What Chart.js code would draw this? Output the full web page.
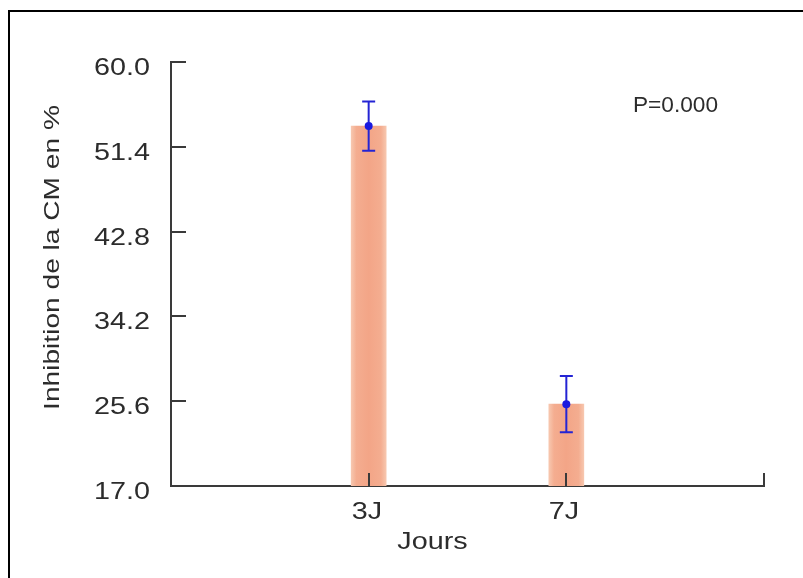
<!DOCTYPE html>
<html>
<head>
<meta charset="utf-8">
<script src="https://cdn.jsdelivr.net/npm/chart.js@4"></script>
<style>
  html, body { margin:0; padding:0; background:#fff; overflow:hidden; }
  #wrap { position:relative; width:803px; height:578px; }
  #frame { position:absolute; left:8px; top:10px; width:900px; height:700px; border:2px solid #000; box-sizing:border-box; }
  canvas { position:absolute; left:0; top:0; }
</style>
</head>
<body>
<div id="wrap">
  <div id="frame"></div>
  <canvas id="c" width="803" height="578"></canvas>
</div>
<script>
// ---- data ----
const categories = ['3J', '7J'];
const meanValues = [53.5, 25.3];
const errorValues = [2.5, 2.85];
const yTickValues = [17.0, 25.6, 34.2, 42.8, 51.4, 60.0];
const yMin = 17.0, yMax = 60.0;
const xTitle = 'Jours';
const yTitle = 'Inhibition de la CM en %';
const pText = 'P=0.000';

// category axis padded with empty slots at both ends
const labels = [''].concat(categories, ['']);
const barData = [null].concat(meanValues, [null]);
const errData = [null].concat(errorValues, [null]);

const FONT = '"Liberation Sans", Arial, sans-serif';
const AXIS = '#3a3a3a';
const TEXT = '#2c2c2c';
const STRETCH = 1.25;

function stretchedText(ctx, text, x, y, align, size, sx, rot) {
  ctx.save();
  ctx.translate(x, y);
  if (rot) ctx.rotate(rot);
  ctx.scale(sx, 1);
  ctx.font = size + 'px ' + FONT;
  ctx.fillStyle = TEXT;
  ctx.textAlign = align;
  ctx.textBaseline = 'alphabetic';
  ctx.fillText(text, 0, 0);
  ctx.restore();
}

const axisPlugin = {
  id: 'axisDeco',
  afterDraw(chart) {
    const ctx = chart.ctx;
    const x = chart.scales.x, y = chart.scales.y;
    const area = chart.chartArea;
    ctx.save();
    ctx.strokeStyle = AXIS;
    ctx.lineWidth = 2;
    // y ticks (inward) + labels
    yTickValues.forEach(v => {
      const py = Math.round(y.getPixelForValue(v));
      if (v !== yMin) {
        ctx.beginPath();
        ctx.moveTo(area.left, py);
        ctx.lineTo(area.left + 15, py);
        ctx.stroke();
      }
      stretchedText(ctx, v.toFixed(1), area.left - 21, py + 13, 'right', 23, STRETCH);
    });
    // x ticks (inward / upward) + labels
    labels.forEach((l, i) => {
      const px = Math.round(x.getPixelForValue(i));
      if (i > 0) {
        ctx.beginPath();
        ctx.moveTo(px, area.bottom);
        ctx.lineTo(px, area.bottom - 13);
        ctx.stroke();
      }
      if (l) stretchedText(ctx, l, px - 2, area.bottom + 33, 'center', 23, STRETCH);
    });
    // error bars + mean points
    ctx.strokeStyle = '#2424d4';
    ctx.lineWidth = 2;
    barData.forEach((m, i) => {
      if (m === null) return;
      const px = x.getPixelForValue(i);
      const top = y.getPixelForValue(m + errData[i]);
      const bot = y.getPixelForValue(m - errData[i]);
      ctx.beginPath();
      ctx.moveTo(px, top); ctx.lineTo(px, bot);
      ctx.moveTo(px - 6.5, top); ctx.lineTo(px + 6.5, top);
      ctx.moveTo(px - 6.5, bot); ctx.lineTo(px + 6.5, bot);
      ctx.stroke();
      ctx.fillStyle = '#1a1ae0';
      ctx.beginPath();
      ctx.arc(px, y.getPixelForValue(m), 4, 0, Math.PI * 2);
      ctx.fill();
    });
    // axis titles
    stretchedText(ctx, xTitle, area.left + (area.right - area.left) * 0.441, 549, 'center', 23, STRETCH);
    stretchedText(ctx, yTitle, 59, area.top + (area.bottom - area.top) * 0.461, 'center', 22.5, STRETCH, -Math.PI / 2);
    // P annotation
    stretchedText(ctx, pText, area.right - 131, 112, 'left', 22, 1.03);
    ctx.restore();
  }
};

new Chart(document.getElementById('c'), {
  type: 'bar',
  data: {
    labels: labels,
    datasets: [{
      data: barData,
      barThickness: 35,
      backgroundColor: (ctx) => {
        const chart = ctx.chart;
        const xs = chart.scales && chart.scales.x;
        if (!xs || ctx.dataIndex === undefined) return '#F4A88A';
        const cx = xs.getPixelForValue(ctx.dataIndex);
        if (!isFinite(cx)) return '#F4A88A';
        const g = chart.ctx.createLinearGradient(cx - 17.5, 0, cx + 17.5, 0);
        g.addColorStop(0, '#F7C7AF');
        g.addColorStop(0.15, '#F4AD90');
        g.addColorStop(0.5, '#F3A587');
        g.addColorStop(0.85, '#F4AD90');
        g.addColorStop(1, '#F7C7AF');
        return g;
      },
      borderWidth: 0
    }]
  },
  options: {
    responsive: false,
    animation: false,
    events: [],
    layout: { padding: { left: 0, right: 39, top: 62, bottom: 0 } },
    plugins: { legend: { display: false }, tooltip: { enabled: false }, title: { display: false } },
    scales: {
      x: {
        type: 'category',
        offset: false,
        grid: { display: false, drawTicks: false },
        border: { display: true, color: AXIS, width: 2 },
        ticks: { display: false, autoSkip: false, maxRotation: 0 },
        afterFit(s) { s.height = 92; }
      },
      y: {
        min: yMin, max: yMax,
        grid: { display: false, drawTicks: false },
        border: { display: true, color: AXIS, width: 2 },
        afterBuildTicks(s) { s.ticks = yTickValues.map(v => ({ value: v })); },
        ticks: { display: false },
        afterFit(s) { s.width = 171; }
      }
    }
  },
  plugins: [axisPlugin]
});
</script>
</body>
</html>
